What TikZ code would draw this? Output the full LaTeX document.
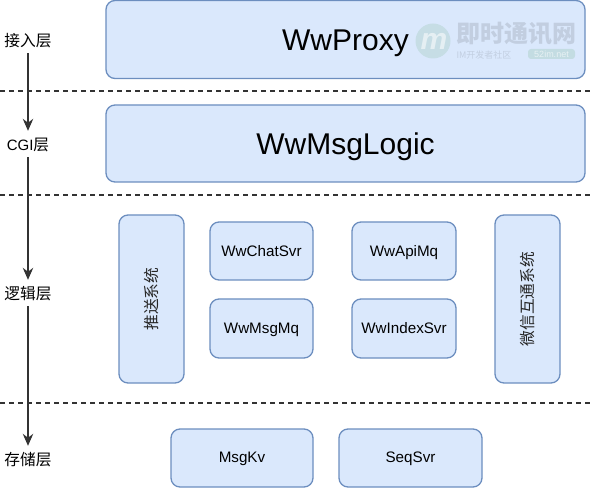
\documentclass[tikz,border=0pt]{standalone}
\usepackage{fontspec}
\setmainfont{Liberation Sans}
\newfontfamily\cjk{Noto Sans CJK SC}
\usetikzlibrary{arrows.meta}
\definecolor{boxfill}{HTML}{DAE8FC}
\definecolor{boxline}{HTML}{6C8EBF}
\tikzset{
  layerbox/.style={draw=boxline,fill=boxfill,line width=1.3pt,rounded corners=9pt,inner sep=0pt,align=center,text depth=0pt},
  bigtext/.style={font=\fontsize{30}{36}\selectfont,text height=21.5pt},
  smalltext/.style={font=\fontsize{15.2}{16}\selectfont,text height=11pt},
  lowtext/.style={font=\fontsize{15.2}{16}\selectfont,text height=9pt},
  layerlabel/.style={font=\cjk\fontsize{15.7}{16}\selectfont,inner sep=6.5pt,text height=13pt,text depth=0pt},
  sidetext/.style={rotate=90,font=\cjk\fontsize{15.7}{16}\selectfont,text=black!85},
  mark text/.style={inner sep=0pt,opacity=0.11,text=black},
}
\begin{document}
\begin{tikzpicture}[x=1pt,y=-1pt]
      \useasboundingbox (0,0) rectangle (592,489);
      \draw
        (345.5,39.5) node[layerbox,minimum width=479pt,minimum height=78pt,bigtext] (proxy){WwProxy}
        (345.5,143.5) node[layerbox,minimum width=479pt,minimum height=77pt,bigtext] (logic){WwMsgLogic}
        (151.5,299) node[layerbox,minimum width=65pt,minimum height=168pt] (push){}
        (527.5,299) node[layerbox,minimum width=65pt,minimum height=168pt] (wechat){}
        (261.5,251) node[layerbox,minimum width=103pt,minimum height=58pt,smalltext] (chat){WwChatSvr}
        (404,251) node[layerbox,minimum width=104pt,minimum height=58pt,smalltext] (apimq){WwApiMq}
        (261.5,328.5) node[layerbox,minimum width=103pt,minimum height=59pt,lowtext] (msgmq){WwMsgMq}
        (404,328.5) node[layerbox,minimum width=104pt,minimum height=59pt,lowtext] (index){WwIndexSvr}
        (242,458) node[layerbox,minimum width=142pt,minimum height=58pt,lowtext] (msgkv){MsgKv}
        (410.5,458) node[layerbox,minimum width=143pt,minimum height=58pt,lowtext] (seqsvr){SeqSvr};
      \node[sidetext] (pushtext) at (push.center) {推送系统};
      \node[sidetext] (wechattext) at (wechat.center) {微信互通系统};
      % layers
      \draw
        (28,40) node[layerlabel] (access){接入层}
        (28,144) node[layerlabel] (cgi){{\rmfamily\fontsize{15}{16}\selectfont CGI}层}
        (28,293) node[layerlabel] (service){逻辑层}
        (28,459) node[layerlabel] (store){存储层};
      \coordinate (a1) at (0,91);
      \coordinate (a2) at (592,91);
      \coordinate (b1) at (0,195);
      \coordinate (b2) at (592,195);
      \coordinate (c1) at (0,403);
      \coordinate (c2) at (592,403);
      \begin{scope}[dashed,dash pattern=on 5pt off 4pt,line width=1.1pt,black!80]
        \draw (a1) to (a2);
        \draw (b1) to (b2);
        \draw (c1) to (c2);
      \end{scope}
      \begin{scope}[-{Stealth[length=12pt,width=10.5pt]},line width=1.2pt,black!80]
        \draw (access) to (cgi);
        \draw (cgi) to (service);
        \draw (service) to (store);
      \end{scope}
      % watermark
      \fill[green!45!black,opacity=0.09] (433,41) circle (17.5pt);
      \fill[green!45!black,opacity=0.1,rounded corners=3pt] (528,49) rectangle (575,59);
      \draw
        (434,41) node[mark text,text=white,opacity=0.55,font=\itshape\bfseries\fontsize{30}{30}\selectfont] (logo){m}
        (516,34) node[mark text,font=\cjk\bfseries\fontsize{24}{26}\selectfont] (wm){即时通讯网}
        (484,55) node[mark text,font=\cjk\fontsize{9}{10}\selectfont] (wmsub){IM开发者社区}
        (551.5,54) node[mark text,text=white,opacity=0.6,font=\fontsize{9}{10}\selectfont] (wmsite){52im.net};
    \end{tikzpicture}
\end{document}
